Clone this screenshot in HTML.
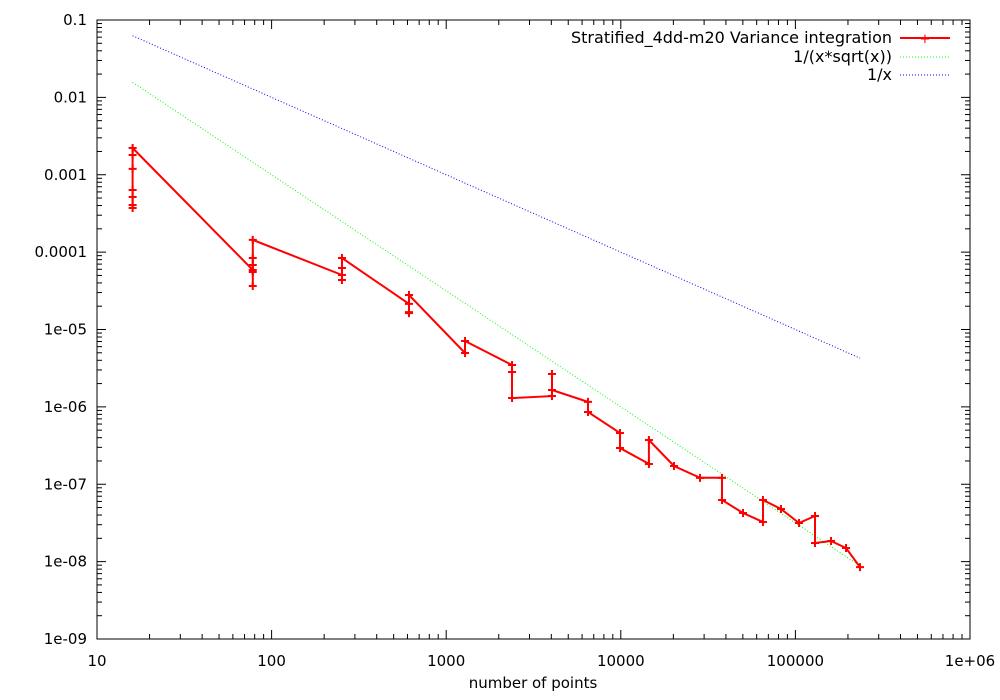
<!DOCTYPE html>
<html><head><meta charset="utf-8"><style>
body{margin:0;background:#fff}
svg{display:block;font-family:"DejaVu Sans","Liberation Sans",sans-serif;font-size:15px}
</style></head><body>
<svg id="chart" width="1000" height="700">
<g id="grid"></g>
<rect x="97" y="20" width="873" height="619" fill="none" stroke="#000" stroke-width="1"/>
<g id="ref"></g><g id="series"></g>
<text x="533" y="688" text-anchor="middle">number of points</text>
<g font-size="16">
<g><text x="892" y="43" text-anchor="end">Stratified_4dd-m20 Variance integration</text><line x1="900" y1="38" x2="950" y2="38" stroke="#f00" stroke-width="2"/><text x="925" y="43" text-anchor="middle" fill="#f00" font-size="13">+</text></g>
<g><text x="892" y="62" text-anchor="end">1/(x*sqrt(x))</text><line x1="900" y1="57" x2="950" y2="57" stroke="#0f0" stroke-dasharray="1,2"/></g>
<g><text x="892" y="80" text-anchor="end">1/x</text><line x1="900" y1="75" x2="950" y2="75" stroke="#00f" stroke-dasharray="1,2"/></g>
</g>
</svg>
<script>
const xs=[16,16,16,16,16,16,16,78,78,78,78,78,78,253,253,253,253,612,612,612,612,1282,1282,2383,2383,2383,4035,4035,4035,6487,6487,9890,9890,14490,14490,20170,28430,38000,38000,50120,65200,65200,82700,104900,129500,129500,160000,195000,234400];
const ys=[3.72e-4,4.06e-4,5.15e-4,6.35e-4,1.19e-3,1.8e-3,2.22e-3,5.87e-5,3.65e-5,5.53e-5,6.82e-5,8.4e-5,1.44e-4,5.06e-5,4.37e-5,6.24e-5,8.4e-5,2.14e-5,1.63e-5,1.68e-5,2.79e-5,4.97e-6,7.1e-6,3.48e-6,2.82e-6,1.3e-6,1.38e-6,2.66e-6,1.65e-6,1.16e-6,8.6e-7,4.6e-7,2.94e-7,1.83e-7,3.73e-7,1.72e-7,1.21e-7,1.21e-7,6.25e-8,4.25e-8,3.25e-8,6.25e-8,4.79e-8,3.16e-8,3.89e-8,1.74e-8,1.85e-8,1.5e-8,8.5e-9];
const xTicks=["10","100","1000","10000","100000","1e+06"];
const yTicks=["1e-09","1e-08","1e-07","1e-06","1e-05","0.0001","0.001","0.01","0.1"];
const X=v=>97+174.6*(Math.log10(v)-1);
const Y=v=>639-77.375*(Math.log10(v)+9);
const NS="http://www.w3.org/2000/svg";
function mk(t,a,p){const e=document.createElementNS(NS,t);for(const k in a)e.setAttribute(k,a[k]);p.appendChild(e);return e;}
const g=document.getElementById('grid');
xTicks.forEach((t,i)=>{const v=Math.pow(10,i+1),x=X(v);
 const l=mk('text',{x:x,y:666,'text-anchor':'middle'},g);l.textContent=t;
 
 
 mk('line',{x1:x,y1:639,x2:x,y2:630,stroke:'#000'},g);mk('line',{x1:x,y1:20,x2:x,y2:29,stroke:'#000'},g);
 if(i<5)for(let m=2;m<10;m++){const xm=X(v*m);mk('line',{x1:xm,y1:639,x2:xm,y2:634,stroke:'#000'},g);mk('line',{x1:xm,y1:20,x2:xm,y2:25,stroke:'#000'},g);}
});
yTicks.forEach((t,i)=>{const v=Math.pow(10,i-9),y=Y(v);
 const l=mk('text',{x:87,y:y+5,'text-anchor':'end'},g);l.textContent=t;
 
 
 mk('line',{x1:97,y1:y,x2:106,y2:y,stroke:'#000'},g);mk('line',{x1:970,y1:y,x2:961,y2:y,stroke:'#000'},g);
 if(i<8)for(let m=2;m<10;m++){const ym=Y(v*m);mk('line',{x1:97,y1:ym,x2:102,y2:ym,stroke:'#000'},g);mk('line',{x1:970,y1:ym,x2:965,y2:ym,stroke:'#000'},g);}
});
const r=document.getElementById('ref');
function refLine(f,col,name){let d='';for(let i=0;i<=100;i++){const lx=Math.log10(16)+i/100*(Math.log10(234400)-Math.log10(16));const v=Math.pow(10,lx);d+=(i?'L':'M')+X(v).toFixed(1)+','+Y(f(v)).toFixed(1);}
 const p=mk('path',{d:d,fill:'none',stroke:col,'stroke-dasharray':'1,2'},r);
 
 }
refLine(v=>1/v,'#00f','inverse-x-line');
refLine(v=>1/(v*Math.sqrt(v)),'#0f0','inverse-x15-line');
const s=document.getElementById('series');
const d=xs.map((v,i)=>(i?'L':'M')+X(v).toFixed(1)+','+Y(ys[i]).toFixed(1)).join('');
const p=mk('path',{d:d,fill:'none',stroke:'#f00','stroke-width':2},s);


xs.forEach((v,i)=>{const x=X(v),y=Y(ys[i]);
 const m=mk('path',{d:`M${x-4},${y}H${x+4}M${x},${y-4}V${y+4}`,stroke:'#f00','stroke-width':2},s);
 
 });
</script>
</body></html>
